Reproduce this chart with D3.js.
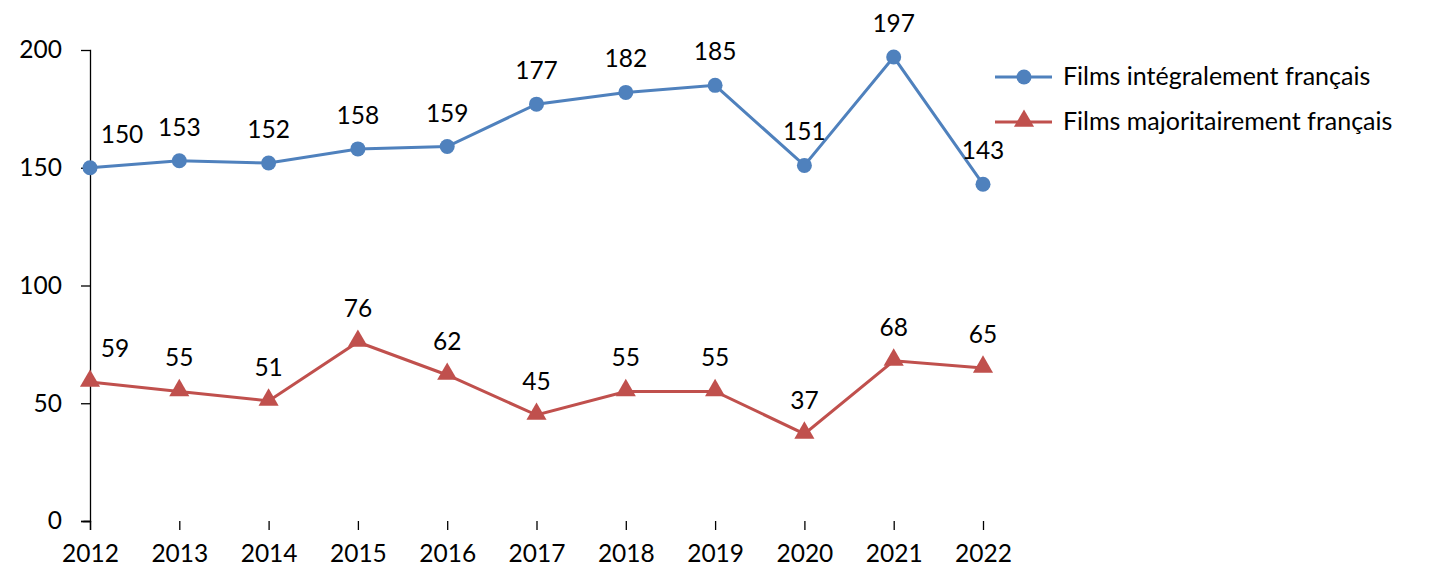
<!DOCTYPE html>
<html>
<head>
<meta charset="utf-8">
<script src="https://cdn.jsdelivr.net/npm/d3@7"></script>
<style>
  body { margin: 0; background: #fff; }
  svg text { font-family: Lato, "Open Sans", sans-serif; fill: #000; }
</style>
</head>
<body>
<div id="chart"></div>
<script>
// Chart data
var years = [2012, 2013, 2014, 2015, 2016, 2017, 2018, 2019, 2020, 2021, 2022];
var integral = [150, 153, 152, 158, 159, 177, 182, 185, 151, 197, 143];
var majority = [59, 55, 51, 76, 62, 45, 55, 55, 37, 68, 65];
var yTicks = [0, 50, 100, 150, 200];
var seriesNames = ["Films intégralement français", "Films majoritairement français"];

var svgWidth = 1439;
var svgHeight = 583;

var svg = d3.select("#chart").append("svg")
    .attr("width", svgWidth)
    .attr("height", svgHeight);

// plot area
var x = d3.scalePoint().domain(years).range([90, 983]);
var y = d3.scaleLinear().domain([0, 200]).range([521, 50]);

// Y axis
var yAxis = svg.append("g")
    .attr("transform", "translate(90,0)")
    .call(d3.axisLeft(y).tickValues(yTicks).tickSize(9).tickPadding(19));
yAxis.selectAll("text").style("font-size", "24.5px");

// X axis
var xAxis = svg.append("g")
    .attr("transform", "translate(0,521)")
    .call(d3.axisBottom(x).tickSize(9).tickPadding(15).tickFormat(d3.format("d")));
xAxis.selectAll("text").style("font-size", "24.5px");

svg.selectAll(".domain, .tick line").attr("stroke", "#000").attr("stroke-width", 1.3);
svg.selectAll(".domain").attr("d", function() { return d3.select(this).attr("d").replace(/[VH]-?9/g, function(m){ return m[0] + "0"; }); });

var series = [
    { name: seriesNames[0], values: integral, color: "#4F81BD", shape: "circle" },
    { name: seriesNames[1], values: majority, color: "#C0504D", shape: "triangle" }
];

var line = d3.line()
    .x(function(d, i) { return x(years[i]); })
    .y(function(d) { return y(d); });

function drawMarker(g, shape, color, cx, cy) {
    if (shape === "circle") {
        g.append("circle").attr("cx", cx).attr("cy", cy).attr("r", 7.5).attr("fill", color);
    } else {
        g.append("path")
            .attr("d", d3.symbol().type(d3.symbolTriangle).size(175)())
            .attr("transform", "translate(" + cx + "," + (cy - 1) + ")")
            .attr("fill", color);
    }
}

series.forEach(function(s) {
    svg.append("path")
        .datum(s.values)
        .attr("fill", "none")
        .attr("stroke", s.color)
        .attr("stroke-width", 3)
        .attr("d", line);

    var mg = svg.append("g");
    s.values.forEach(function(v, i) {
        drawMarker(mg, s.shape, s.color, x(years[i]), y(v));
    });

    // data labels
    svg.append("g").selectAll("text")
        .data(s.values)
        .enter().append("text")
        .attr("x", function(d, i) { return x(years[i]) + (i === 0 ? (s.shape === "circle" ? 32 : 25) : 0); })
        .attr("y", function(d) { return y(d) - 25; })
        .attr("text-anchor", "middle")
        .style("font-size", "24.5px")
        .text(function(d) { return d; });
});

// Legend
var legend = svg.append("g");
series.forEach(function(s, i) {
    var ly = 77 + i * 45;
    legend.append("line")
        .attr("x1", 995).attr("x2", 1052)
        .attr("y1", ly).attr("y2", ly)
        .attr("stroke", s.color).attr("stroke-width", 3);
    drawMarker(legend, s.shape, s.color, 1024, ly);
    legend.append("text")
        .attr("x", 1063).attr("y", ly + 8)
        .style("font-size", "25px")
        .text(s.name);
});
</script>
</body>
</html>
